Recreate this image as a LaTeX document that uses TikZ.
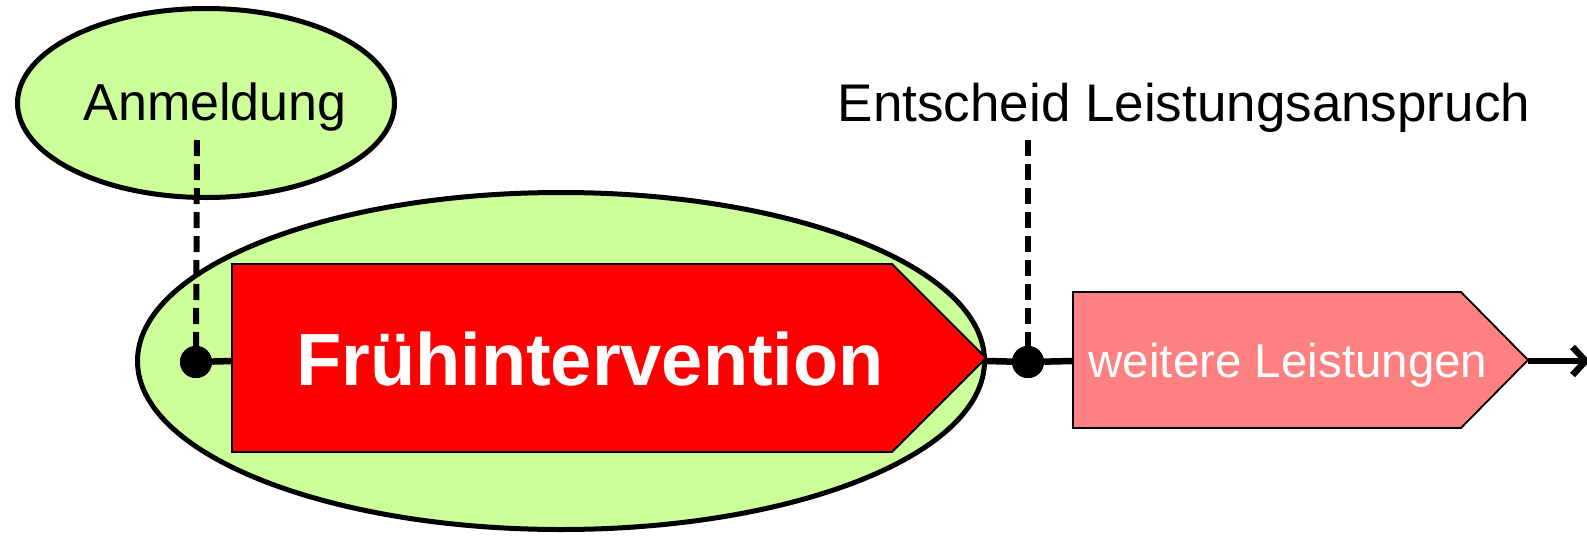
\documentclass[tikz,border=0pt]{standalone}
\usepackage{fontspec}
\setmainfont{Liberation Sans}
\usetikzlibrary{arrows.meta,shapes.geometric}
\definecolor{lgreen}{HTML}{CCFF99}
\definecolor{pred}{HTML}{FF0000}
\definecolor{lred}{HTML}{FF8080}
\tikzset{
  phase/.style={draw=black, fill=lgreen, line width=5pt, ellipse, inner sep=0pt},
  linkline/.style={line width=6.5pt},
  milestone/.style={line width=6pt, dash pattern=on 16pt off 8pt},
  dotmark/.style={circle, fill=black, minimum size=32pt, inner sep=0pt},
  bigtext/.style={font=\fontsize{52}{60}\selectfont, anchor=base, inner sep=0pt},
}
\begin{document}
\begin{tikzpicture}[x=1pt,y=-1pt]
\useasboundingbox (0,0) rectangle (1587,536);
% ellipses
\node[phase, minimum width=377pt, minimum height=189pt] (anm) at (206,103) {};
\node[phase, minimum width=847pt, minimum height=337pt] (fi) at (561,361) {};
% red pentagon
\draw[fill=pred, line width=1.8pt] (232,264) -- (892,264) -- (986,358) -- (892,452) -- (232,452) -- cycle;
\coordinate (rl) at (232,361);
\coordinate (rt) at (986,361);
% light red pentagon
\draw[fill=lred, line width=1.8pt] (1073,292) -- (1461,292) -- (1528,360) -- (1461,428) -- (1073,428) -- cycle;
\coordinate (ll) at (1073,361);
\coordinate (lt) at (1528,361);
% milestones
\node[dotmark] (d1) at (196,362) {};
\node[dotmark] (d2) at (1028,362) {};
\coordinate (m1) at (197,140);
\coordinate (m2) at (1028,140);
\coordinate (endp) at (1590,361);
% connectors
\draw[linkline] (d1) -- (rl);
\draw[linkline] (rt) -- (d2);
\draw[linkline] (d2) -- (ll);
\draw[linkline, -{Straight Barb[length=13pt,width=28pt]}] (lt) -- (endp);
\draw[milestone] (m1) -- (d1.center);
\draw[milestone] (m2) -- (d2.center);
\node[dotmark] at (d1) {};
\node[dotmark] at (d2) {};
% texts
\node[bigtext] (t1) at (215,120) {Anmeldung};
\node[bigtext, font=\fontsize{53}{60}\selectfont] (t2) at (1184,121) {Entscheid Leistungsanspruch};
\node[anchor=base, inner sep=0pt, text=white, font=\fontsize{74}{80}\selectfont\bfseries] (t3) at (590,385) {Frühintervention};
\node[anchor=base, inner sep=0pt, text=white, font=\fontsize{47.5}{55}\selectfont] (t4) at (1288,377) {weitere Leistungen};
\end{tikzpicture}
\end{document}
